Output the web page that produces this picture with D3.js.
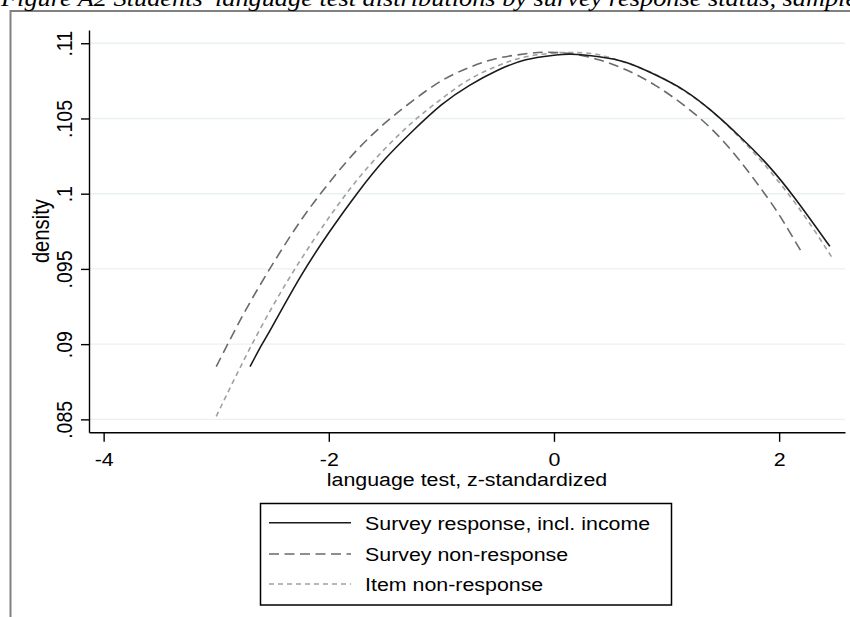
<!DOCTYPE html>
<html>
<head>
<meta charset="utf-8">
<script src="https://cdn.jsdelivr.net/npm/d3@7"></script>
<style>
  html, body { margin: 0; padding: 0; background: #fff; }
  svg { display: block; }
  text { font-family: "Liberation Sans", Arial, sans-serif; fill: #000; }
</style>
</head>
<body>
<svg id="chart" width="850" height="617"></svg>
<script>
// ---------------- data ----------------
const titleText = "Figure A2 Students' language test distributions by survey response status, sample";
const xLabel = "language test, z-standardized";
const yLabel = "density";

const xTicks = [-4, -2, 0, 2];
const xTickLabels = ["-4", "-2", "0", "2"];
const yTicks = [0.085, 0.09, 0.095, 0.1, 0.105, 0.11];
const yTickLabels = [".085", ".09", ".095", ".1", ".105", ".11"];

const seriesNames = ["Survey response, incl. income", "Survey non-response", "Item non-response"];

// Survey response, incl. income (solid)
const respX = [-2.70, -2.60, -2.50, -2.25, -2.00, -1.75, -1.50, -1.25, -1.00, -0.75, -0.50, -0.25, 0.00, 0.15, 0.40, 0.65, 0.90, 1.15, 1.40, 1.65, 1.90, 2.15, 2.45];
const respY = [0.0885, 0.0899, 0.0912, 0.0945, 0.0974, 0.1000, 0.1023, 0.1042, 0.1059, 0.1072, 0.1082, 0.1089, 0.1092, 0.10927, 0.1091, 0.1087, 0.1079, 0.1069, 0.1055, 0.1038, 0.1019, 0.0996, 0.0965];

// Survey non-response (long dash)
const nonX = [-3.00, -2.75, -2.50, -2.25, -2.00, -1.75, -1.50, -1.25, -1.00, -0.75, -0.50, -0.25, -0.08, 0.15, 0.40, 0.65, 0.90, 1.15, 1.40, 1.65, 1.90, 2.05, 2.20];
const nonY = [0.0885, 0.0921, 0.0953, 0.0982, 0.1007, 0.1029, 0.1047, 0.1062, 0.1075, 0.1084, 0.1090, 0.1093, 0.1094, 0.1093, 0.1089, 0.1082, 0.1072, 0.1059, 0.1043, 0.1022, 0.0997, 0.0980, 0.0961];

// Item non-response (short dash)
const itemX = [-3.00, -2.75, -2.50, -2.25, -2.00, -1.75, -1.50, -1.25, -1.00, -0.75, -0.50, -0.25, 0.00, 0.12, 0.35, 0.60, 0.85, 1.10, 1.35, 1.60, 1.85, 2.10, 2.30, 2.466];
const itemY = [0.0852, 0.0890, 0.0925, 0.0956, 0.0984, 0.1009, 0.1030, 0.1048, 0.1063, 0.1076, 0.1085, 0.1091, 0.10935, 0.10938, 0.1093, 0.1088, 0.1081, 0.1071, 0.1058, 0.1041, 0.1021, 0.0998, 0.0977, 0.0958];

// ---------------- layout ----------------
const svg = d3.select("#chart");
const SX = 1.15;              // horizontal stretch of the original picture
const FS = 18.6;              // font size, horizontal texts
const FSR = 20.2;             // font size, rotated texts

const plot = { left: 89, right: 845, top: 30, bottom: 432.3 };

const x = d3.scaleLinear().domain([-4.13, 2.585]).range([plot.left, plot.right]);
const y = d3.scaleLinear().domain([0.08414, 0.11088]).range([plot.bottom, plot.top]);

// outer frame (gray)
svg.append("path")
  .attr("d", "M10.5,617 L10.5,11 L850,11")
  .attr("fill", "none").attr("stroke", "#808080").attr("stroke-width", 2);

// title (clipped at top)
svg.append("text")
  .attr("transform", "translate(1,5.5) scale(" + SX + ",1)")
  .attr("font-style", "italic")
  .attr("font-size", 22.9)
  .style("font-family", "'Liberation Serif', 'Times New Roman', serif")
  .text(titleText);

// gridlines
svg.append("g")
  .selectAll("line").data(yTicks).join("line")
  .attr("x1", plot.left).attr("x2", plot.right)
  .attr("y1", d => y(d)).attr("y2", d => y(d))
  .attr("stroke", "#eaf1f3").attr("stroke-width", 1.4);

// axes
const xAxis = d3.axisBottom(x).tickValues(xTicks).tickSizeInner(9.5).tickSizeOuter(0).tickFormat((d, i) => xTickLabels[i]);
const gx = svg.append("g").attr("transform", `translate(0,${plot.bottom})`).call(xAxis);
gx.select(".domain").attr("stroke", "#000").attr("stroke-width", 1.4);
gx.selectAll(".tick line").attr("stroke", "#000").attr("stroke-width", 1.4);
gx.selectAll(".tick text").remove();
gx.selectAll(".tick").append("text")
  .attr("transform", `translate(0,34) scale(${SX},1)`)
  .attr("text-anchor", "middle")
  .attr("font-size", FS)
  .attr("fill", "#000")
  .text((d, i) => xTickLabels[i]);

const yAxis = d3.axisLeft(y).tickValues(yTicks).tickSizeInner(8).tickSizeOuter(0).tickFormat((d, i) => yTickLabels[i]);
const gy = svg.append("g").attr("transform", `translate(${plot.left},0)`).call(yAxis);
gy.select(".domain").attr("stroke", "#000").attr("stroke-width", 1.4);
gy.selectAll(".tick line").attr("stroke", "#000").attr("stroke-width", 1.4);
gy.selectAll(".tick text").remove();
gy.selectAll(".tick").append("text")
  .attr("transform", `translate(-17,0) scale(${SX},1) rotate(-90)`)
  .attr("text-anchor", "middle")
  .attr("font-size", 19.5)
  .attr("fill", "#000")
  .text((d, i) => yTickLabels[i]);

// axis titles
svg.append("text")
  .attr("transform", `translate(${(plot.left + plot.right) / 2},485.5) scale(${SX},1)`)
  .attr("text-anchor", "middle")
  .attr("font-size", FS)
  .text(xLabel);

svg.append("text")
  .attr("transform", `translate(49,${(plot.top + plot.bottom) / 2}) scale(${SX},1) rotate(-90)`)
  .attr("text-anchor", "middle")
  .attr("font-size", FSR)
  .text(yLabel);

// curves
const styles = [
  { color: "#1a1a1a", dash: null, width: 1.6 },
  { color: "#6a6a6a", dash: "10,5.5", width: 1.6 },
  { color: "#a0a0a0", dash: "5,4", width: 1.6 }
];
const seriesData = [
  respX.map((v, i) => [v, respY[i]]),
  nonX.map((v, i) => [v, nonY[i]]),
  itemX.map((v, i) => [v, itemY[i]])
];
const line = d3.line().x(d => x(d[0])).y(d => y(d[1])).curve(d3.curveNatural);

// draw back-to-front: item, non-response, response
[2, 1, 0].forEach(k => {
  svg.append("path")
    .datum(seriesData[k])
    .attr("d", line)
    .attr("fill", "none")
    .attr("stroke", styles[k].color)
    .attr("stroke-width", styles[k].width)
    .attr("stroke-dasharray", styles[k].dash);
});

// legend
const leg = svg.append("g");
leg.append("rect")
  .attr("x", 260.5).attr("y", 503.5).attr("width", 411).attr("height", 101.5)
  .attr("fill", "#fff").attr("stroke", "#000").attr("stroke-width", 1.5);
const rowsY = [522.7, 554, 584];
seriesNames.forEach((name, i) => {
  leg.append("line")
    .attr("x1", 269).attr("x2", 351)
    .attr("y1", rowsY[i]).attr("y2", rowsY[i])
    .attr("stroke", styles[i].color).attr("stroke-width", styles[i].width)
    .attr("stroke-dasharray", styles[i].dash);
  leg.append("text")
    .attr("transform", `translate(365,${rowsY[i] + 7}) scale(${SX},1)`)
    .attr("font-size", FS)
    .text(name);
});
</script>
</body>
</html>
